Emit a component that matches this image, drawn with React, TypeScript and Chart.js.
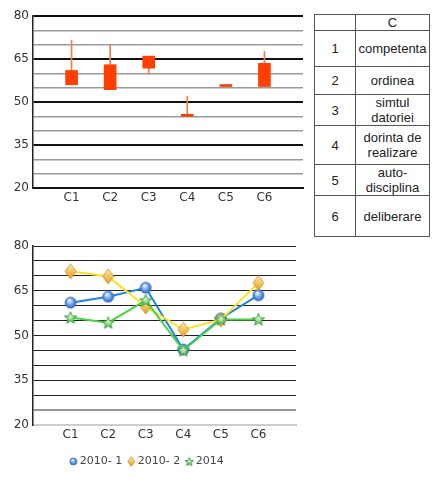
import React, { useEffect, useRef } from "react";
import { Chart, registerables } from "chart.js";

Chart.register(...registerables);

const categories = ["C1", "C2", "C3", "C4", "C5", "C6"];
const seriesNames = ["2010- 1", "2010- 2", "2014"];
const values2010a = [61, 63, 66, 45.3, 55.7, 63.5];
const values2010b = [71.5, 69.8, 59.7, 52, 55.3, 67.6];
const values2014 = [56, 54.3, 61.8, 45, 55.4, 55.4];
const yLabels = [20, 35, 50, 65, 80];
const tableNumbers = ["1", "2", "3", "4", "5", "6"];
const tableNames = ["competenta", "ordinea", "simtul\ndatoriei", "dorinta de\nrealizare", "auto-\ndisciplina", "deliberare"];

const FONT = "'DejaVu Sans', Verdana, sans-serif";
const padded = ["", ...categories, ""];
const pad = (arr: any[]) => [null, ...arr, null];

function circleMarker(r: number) {
  const c = document.createElement("canvas");
  const s = Math.ceil(r * 2 + 2);
  c.width = s;
  c.height = s;
  const g = c.getContext("2d")!;
  const m = s / 2;
  const grad = g.createRadialGradient(m - r * 0.25, m - r * 0.45, r * 0.1, m, m, r);
  grad.addColorStop(0, "#eef5ff");
  grad.addColorStop(0.5, "#79aaf0");
  grad.addColorStop(1, "#2d64c8");
  g.beginPath();
  g.arc(m, m, r, 0, Math.PI * 2);
  g.fillStyle = grad;
  g.fill();
  g.strokeStyle = "#3a6cbc";
  g.lineWidth = 0.8;
  g.stroke();
  return c;
}

function diamondMarker(w: number, h: number) {
  const c = document.createElement("canvas");
  c.width = w + 2;
  c.height = h + 2;
  const g = c.getContext("2d")!;
  const cx = c.width / 2;
  const cy = c.height / 2;
  const grad = g.createLinearGradient(0, 1, 0, h + 1);
  grad.addColorStop(0, "#fff0b8");
  grad.addColorStop(0.5, "#f6c45a");
  grad.addColorStop(1, "#e39a2c");
  g.beginPath();
  g.moveTo(cx, 1);
  g.lineTo(cx + w / 2, cy);
  g.lineTo(cx, h + 1);
  g.lineTo(cx - w / 2, cy);
  g.closePath();
  g.fillStyle = grad;
  g.fill();
  g.strokeStyle = "#c98a2a";
  g.lineWidth = 0.8;
  g.stroke();
  return c;
}

function starMarker(r: number) {
  const c = document.createElement("canvas");
  const s = Math.ceil(r * 2 + 2);
  c.width = s;
  c.height = s;
  const g = c.getContext("2d")!;
  const m = s / 2;
  const grad = g.createRadialGradient(m, m - r * 0.2, r * 0.1, m, m, r);
  grad.addColorStop(0, "#d4f5c8");
  grad.addColorStop(0.55, "#6acc62");
  grad.addColorStop(1, "#3b9a3b");
  g.beginPath();
  for (let i = 0; i < 10; i++) {
    const rad = i % 2 === 0 ? r : r * 0.45;
    const a = -Math.PI / 2 + (i * Math.PI) / 5;
    const x = m + rad * Math.cos(a);
    const y = m + 0.5 + rad * Math.sin(a);
    if (i === 0) g.moveTo(x, y);
    else g.lineTo(x, y);
  }
  g.closePath();
  g.fillStyle = grad;
  g.fill();
  g.strokeStyle = "#3a8f3a";
  g.lineWidth = 0.7;
  g.stroke();
  return c;
}

const App: React.FC = () => {
  const topRef = useRef<HTMLCanvasElement | null>(null);
  const bottomRef = useRef<HTMLCanvasElement | null>(null);

  useEffect(() => {
    if (!topRef.current || !bottomRef.current) return;

    // candle: box between 2010-1 and 2014, whisker covers all three
    const boxes = categories.map((_, i) => {
      const a = values2010a[i];
      const b = values2014[i];
      return [Math.min(a, b), Math.max(a, b)];
    });
    const whiskers = categories.map((_, i) => {
      const v = [values2010a[i], values2010b[i], values2014[i]];
      return [Math.min(...v), Math.max(...v)];
    });

    const yScale = (
      color: (v: number) => string,
      width: (v: number) => number
    ) => ({
      min: 20,
      max: 80,
      ticks: {
        stepSize: 5,
        autoSkip: false,
        maxTicksLimit: 20,
        padding: 4,
        color: "#333",
        font: { family: FONT, size: 12 },
        callback: (v: any) => (yLabels.includes(Number(v)) ? String(v) : ""),
      },
      grid: {
        drawTicks: false,
        color: (ctx: any) => color(ctx.tick?.value),
        lineWidth: (ctx: any) => width(ctx.tick?.value),
      },
      border: { color: "#222", width: 1.5 },
      afterFit: (s: any) => {
        s.width = 33;
      },
    });

    const xScale = (borderColor: string, h: number) => ({
      type: "category" as const,
      labels: padded,
      offset: false,
      grid: { display: false, drawTicks: false },
      border: { color: borderColor, width: 2 },
      ticks: {
        autoSkip: false,
        maxRotation: 0,
        padding: 3,
        color: "#333",
        font: { family: FONT, size: 12 },
      },
      afterFit: (s: any) => {
        s.height = h;
      },
    });

    const top = new Chart(topRef.current, {
      type: "bar",
      data: {
        labels: padded,
        datasets: [
          {
            label: "box",
            data: pad(boxes) as any,
            backgroundColor: "#ff3f00",
            barThickness: 12,
            minBarLength: 2,
            grouped: false,
            order: 1,
          },
          {
            label: "whisker",
            data: pad(whiskers) as any,
            backgroundColor: "#f07a52",
            barThickness: 1,
            grouped: false,
            order: 2,
          },
        ],
      },
      options: {
        animation: false,
        responsive: true,
        maintainAspectRatio: false,
        layout: { padding: { top: 16, right: 7, left: 0, bottom: 0 } },
        plugins: { legend: { display: false }, tooltip: { enabled: false } },
        scales: {
          x: xScale("#111", 22) as any,
          y: yScale(
            (v) => (yLabels.includes(v) ? "#111" : "#999"),
            (v) => (yLabels.includes(v) ? 2 : 1.5)
          ) as any,
        },
      },
    });

    const markers = [circleMarker(5.5), diamondMarker(11, 15), starMarker(6.5)];
    const legendMarkers = [circleMarker(3.5), diamondMarker(7, 10), starMarker(4.5)];
    const lineColors = ["#2180e8", "#ffe21c", "#48d448"];
    const seriesValues = [values2010a, values2010b, values2014];

    const bottom = new Chart(bottomRef.current, {
      type: "line",
      data: {
        labels: padded,
        datasets: seriesNames.map((name, i) => ({
          label: name,
          data: pad(seriesValues[i]),
          borderColor: lineColors[i],
          backgroundColor: lineColors[i],
          borderWidth: 2,
          pointStyle: markers[i] as any,
          pointRadius: 6,
          order: 2 - i,
        })),
      },
      options: {
        animation: false,
        responsive: true,
        maintainAspectRatio: false,
        layout: { padding: { top: 16, right: 14, left: 0, bottom: 0 } },
        plugins: {
          tooltip: { enabled: false },
          legend: {
            position: "bottom",
            labels: {
              usePointStyle: true,
              boxWidth: 2,
              padding: 8,
              color: "#444",
              font: { family: FONT, size: 11 },
              generateLabels: (chart: any) =>
                Chart.defaults.plugins.legend.labels
                  .generateLabels(chart)
                  .sort((a: any, b: any) => a.datasetIndex - b.datasetIndex)
                  .map((l: any) => ({ ...l, pointStyle: legendMarkers[l.datasetIndex] })),
            },
          },
        },
        scales: {
          x: xScale("#ccc", 23) as any,
          y: yScale(
            (v) => (v === 20 ? "#ccc" : v === 25 ? "#999" : "#222"),
            (v) => (v === 20 || v === 25 ? 2 : 1)
          ) as any,
        },
      },
    });

    return () => {
      top.destroy();
      bottom.destroy();
    };
  }, []);

  const cell: React.CSSProperties = {
    border: "1px solid #555",
    textAlign: "center",
    verticalAlign: "middle",
    padding: 0,
    whiteSpace: "pre-line",
    lineHeight: "15px",
  };
  const rowHeights = [36, 28, 30, 39, 30, 41];

  return (
    <div style={{ position: "absolute", left: 0, top: 0, width: 433, height: 477, background: "#fff" }}>
      <div style={{ position: "absolute", left: 0, top: 0, width: 310, height: 210 }}>
        <canvas ref={topRef}></canvas>
      </div>
      <table
        style={{
          position: "absolute",
          left: 314,
          top: 14,
          borderCollapse: "collapse",
          fontFamily: "'Liberation Sans', Arial, sans-serif",
          fontSize: 13,
          color: "#222",
          tableLayout: "fixed",
          width: 115,
        }}
      >
        <colgroup>
          <col style={{ width: 41 }} />
          <col style={{ width: 74 }} />
        </colgroup>
        <tbody>
          <tr style={{ height: 16 }}>
            <td style={cell}></td>
            <td style={cell}>C</td>
          </tr>
          {tableNumbers.map((n, i) => (
            <tr key={n} style={{ height: rowHeights[i] }}>
              <td style={cell}>{n}</td>
              <td style={cell}>{tableNames[i]}</td>
            </tr>
          ))}
        </tbody>
      </table>
      <div style={{ position: "absolute", left: 0, top: 230, width: 310, height: 247 }}>
        <canvas ref={bottomRef}></canvas>
      </div>
    </div>
  );
};

export default App;
